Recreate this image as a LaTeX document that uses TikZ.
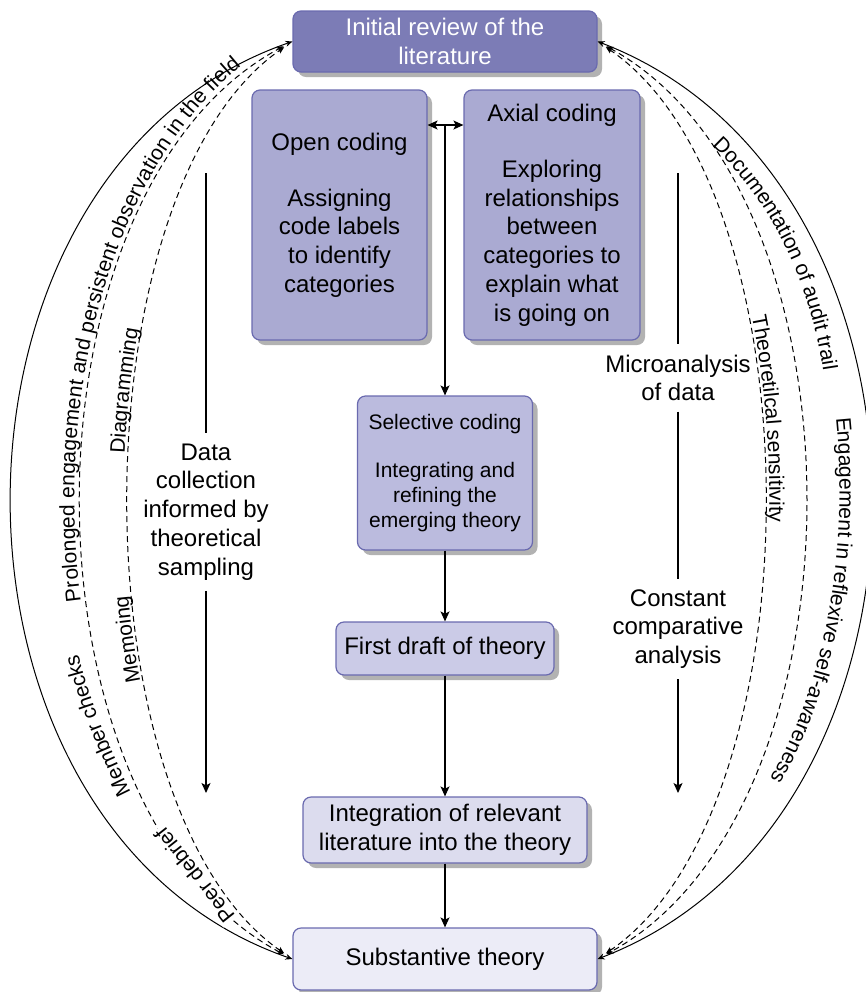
\documentclass[tikz,border=0pt]{standalone}
\usepackage{fontspec}
\setmainfont{Liberation Sans}
\usetikzlibrary{arrows.meta,decorations.text,shadows}
\definecolor{cA}{HTML}{7C7CB6}
\definecolor{cB}{HTML}{AAAAD2}
\definecolor{cC}{HTML}{BBBBDE}
\definecolor{cD}{HTML}{CBCBE7}
\definecolor{cE}{HTML}{DCDCEE}
\definecolor{cF}{HTML}{ECECF7}
\definecolor{bord}{HTML}{6A6AAF}
\newcommand\lblfont{\fontsize{10.5}{12.6}\selectfont}
\tikzset{
  box/.style={draw=bord, line width=0.6pt, rounded corners=4pt, align=center,
    inner sep=0pt, font=\fontsize{12}{14.4}\selectfont,
    drop shadow={shadow xshift=2.5pt, shadow yshift=-2.5pt, fill=black, opacity=0.3}},
  conn/.style={line width=0.6pt, -{Stealth[length=5pt,width=4.5pt,inset=1.2pt]}},
  plain/.style={line width=0.6pt},
  sidetext/.style={align=center, inner xsep=1pt, inner ysep=5pt, font=\fontsize{12}{14.4}\selectfont},
  curve/.style={line width=0.5pt, {Stealth[length=3.5pt,width=3pt]}-{Stealth[length=3.5pt,width=3pt]}},
  dcurve/.style={curve, dash pattern=on 3pt off 2pt, shorten <=5pt, shorten >=5pt},
  lbl/.style={decorate, decoration={text along path, raise=3pt, text align={left indent=#1}}},
  lblc/.style={decorate, decoration={text along path, raise=0pt, text align={left indent=#1}}},
}
\begin{document}
\begin{tikzpicture}[x=0.5pt,y=-0.5pt]
\useasboundingbox (0,0) rectangle (866,992);

% boxes
\node[box, fill=cA, text=white, minimum width=152pt, minimum height=30.5pt] (init) at (445,41.5) {Initial review of the\\literature};
\node[box, fill=cB, minimum width=87.5pt, minimum height=125pt] (open) at (339.5,215) {Open coding\\[13.6pt]Assigning\\code labels\\to identify\\categories};
\node[box, fill=cB, minimum width=88pt, minimum height=125pt] (axial) at (552,215) {Axial coding\\[13.6pt]Exploring\\relationships\\between\\categories to\\explain what\\is going on};
\node[box, fill=cC, font=\fontsize{10.5}{12.6}\selectfont, minimum width=87.5pt, minimum height=77pt] (sel) at (445,473) {Selective coding\\[11.4pt]Integrating and\\refining the\\emerging theory};
\node[box, fill=cD, minimum width=109pt, minimum height=26.5pt] (draft) at (445,648.5) {First draft of theory};
\node[box, fill=cE, minimum width=142pt, minimum height=33pt] (integ) at (445,830) {Integration of relevant\\literature into the theory};
\node[box, fill=cF, minimum width=152pt, minimum height=31pt] (subst) at (445,959) {Substantive theory};

% centre connectors
\coordinate (jn) at (445,125);
\draw[plain, {Stealth[length=5pt,width=4.5pt,inset=1.2pt]}-{Stealth[length=5pt,width=4.5pt,inset=1.2pt]}] (open.east |- jn) -- (axial.west |- jn);
\draw[conn] (jn) -- (sel);
\draw[conn] (sel) -- (draft);
\draw[conn] (draft) -- (integ);
\draw[conn] (integ) -- (subst);

% side process lines
\coordinate (lt) at (206,173);
\node[sidetext] (dc) at (206,512) {Data\\collection\\informed by\\theoretical\\sampling};
\coordinate (lb) at (206,793);
\draw[plain] (lt) -- (dc);
\draw[conn] (dc) -- (lb);

\coordinate (rt) at (678,173);
\node[sidetext] (micro) at (678,378) {Microanalysis\\of data};
\node[sidetext] (const) at (678,629) {Constant\\comparative\\analysis};
\coordinate (rb) at (678,793);
\draw[plain] (rt) -- (micro);
\draw[plain] (micro) -- (const);
\draw[conn] (const) -- (rb);

% left curves
\draw[curve] (init.west) .. controls +(-375,130) and +(-375,-130) .. (subst.west);
\draw[dcurve] (subst.west) .. controls +(-280,-150) and +(-280,150) .. (init.west)
  node[pos=0.135, sloped, allow upside down, fill=white, inner sep=1pt, font=\lblfont] (peer) {Peer debrief};
\draw[dcurve] (subst.west) .. controls +(-217,-150) and +(-217,150) .. (init.west);

\path[lbl=214pt, decoration={raise=4pt, text={|\lblfont|Prolonged engagement and persistent observation in the field}}]
  (subst.west) .. controls +(-280,-150) and +(-280,150) .. (init.west);
\coordinate (mcA) at (131,792);
\coordinate (mcB) at (74,636);
\path[lblc=0pt, decoration={text={|\lblfont|Member checks}}]
  (mcA) .. controls (110,750) and (88,700) .. (mcB);
\path[lbl=274.6pt, decoration={text={|\lblfont|Diagramming}}]
  (subst.west) .. controls +(-217,-150) and +(-217,150) .. (init.west);
\path[lbl=161pt, decoration={text={|\lblfont|Memoing}}]
  (subst.west) .. controls +(-217,-150) and +(-217,150) .. (init.west);

% right curves
\draw[curve] (init.east) .. controls +(365,140) and +(365,-140) .. (subst.east);
\draw[dcurve] (init.east) .. controls +(275,150) and +(275,-150) .. (subst.east);
\draw[dcurve] (init.east) .. controls +(221,150) and +(221,-150) .. (subst.east);

\coordinate (docA) at (712,146);
\coordinate (docB) at (826,392);
\path[lblc=0pt, decoration={text={|\lblfont|Documentation of audit trail}}]
  (docA) .. controls (775,205) and (815,292) .. (docB);
\coordinate (engA) at (836,418);
\coordinate (engB) at (760,795);
\path[lblc=0pt, decoration={text={|\lblfont|Engagement in reflexive self-awareness}}]
  (engA) .. controls (850,560) and (822,700) .. (engB);
\path[lbl=160.5pt, decoration={text={|\lblfont|Theoretilcal sensitivity}}]
  (init.east) .. controls +(221,150) and +(221,-150) .. (subst.east);
\end{tikzpicture}
\end{document}
